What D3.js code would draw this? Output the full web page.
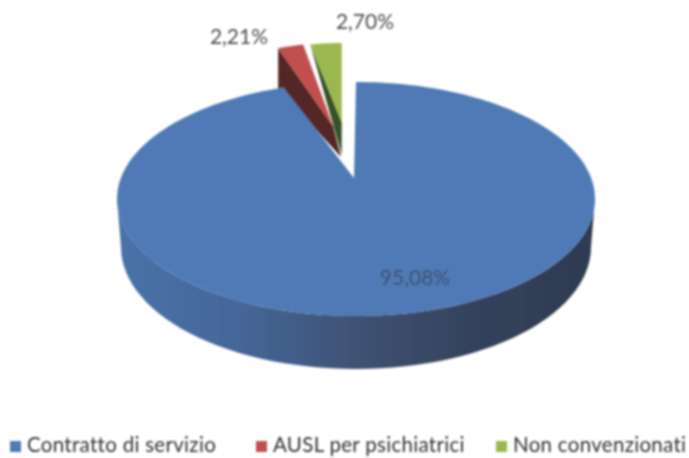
<!DOCTYPE html>
<html>
<head>
<meta charset="utf-8">
<script src="https://cdn.jsdelivr.net/npm/d3@7"></script>
<style>
html, body { margin: 0; padding: 0; background: #fff; }
svg { display: block; font-family: Lato, sans-serif; }
</style>
</head>
<body>
<div id="chart"></div>
<script>
const categories = ["Contratto di servizio", "AUSL per psichiatrici", "Non convenzionati"]
const values = [95.08, 2.21, 2.70]
const valueLabels = ["95,08%", "2,21%", "2,70%"]

const width = 689
const height = 458
const svg = d3.select("#chart").append("svg")
    .attr("width", width).attr("height", height)
    .attr("viewBox", `0 0 ${width} ${height}`)

const defs = svg.append("defs")
defs.append("filter").attr("id", "soft")
    .attr("filterUnits", "userSpaceOnUse")
    .attr("x", 0).attr("y", 0)
    .attr("width", width).attr("height", height)
    .append("feGaussianBlur").attr("stdDeviation", 0.8)

const grad = defs.append("linearGradient").attr("id", "wall")
grad.append("stop").attr("offset", "0%").attr("stop-color", "#4a72a9")
grad.append("stop").attr("offset", "25%").attr("stop-color", "#456799")
grad.append("stop").attr("offset", "50%").attr("stop-color", "#3f5274")
grad.append("stop").attr("offset", "75%").attr("stop-color", "#34425d")
grad.append("stop").attr("offset", "100%").attr("stop-color", "#2d3a50")

const slices = d3.pie().sort(null)(values)
const line = d3.line()

// point on a tilted rim, angle clockwise from 12 o'clock
const rim = (e, a) => [e.cx + e.rx * Math.sin(a), e.cy - e.ry * Math.cos(a)]
const rimPoints = (e, a0, a1) => d3.range(0, 61).map(i => rim(e, a0 + (a1 - a0) * i / 60))

// geometry of each exploded wedge
const shapes = [
    { top: { cx: 356, cy: 199, rx: 239, ry: 117 }, apex: [354, 178], color: "#4f7ab5" },
    { top: { cx: 334.6, cy: 153, rx: 186, ry: 110 }, apex: [333, 126], floor: [341, 157], drop: 40, color: "#c0504d", side: "#552826" },
    { top: { cx: 341.7, cy: 153, rx: 186, ry: 110 }, apex: [341.7, 122], floor: [341.7, 155], color: "#9bb84f", side: "#36532a" }
]
const blueFloor = { cx: 356, cy: 247, rx: 235, ry: 122 }

const g = svg.append("g").attr("filter", "url(#soft)")

// green wedge
const green = shapes[2], greenS = slices[2]
const greenRim = rimPoints(green.top, greenS.startAngle, greenS.endAngle)
g.append("path").attr("fill", green.side)
    .attr("d", line([greenRim[0], green.floor, green.apex]) + "Z")
g.append("path").attr("fill", green.color)
    .attr("d", line([...greenRim, green.apex]) + "Z")

// red wedge
const red = shapes[1], redS = slices[1]
const redRim = rimPoints(red.top, redS.startAngle, redS.endAngle)
const redLeft = redRim[0]
g.append("path").attr("fill", red.side)
    .attr("d", line([redLeft, [redLeft[0], redLeft[1] + red.drop], red.floor, red.apex]) + "Z")
g.append("path").attr("fill", red.color)
    .attr("d", line([...redRim, red.apex]) + "Z")

// blue outer wall, then the top face over it
const blue = shapes[0], blueS = slices[0]
const wallTop = rimPoints(blue.top, Math.PI / 2, Math.PI * 1.5)
const wallBottom = rimPoints(blueFloor, Math.PI / 2, Math.PI * 1.5).reverse()
g.append("path").attr("fill", "url(#wall)")
    .attr("d", line([...wallTop, ...wallBottom]) + "Z")
g.append("path").attr("fill", blue.color)
    .attr("d", line([...d3.range(0, 241).map(i => rim(blue.top, blueS.startAngle + (blueS.endAngle - blueS.startAngle) * i / 240)), blue.apex]) + "Z")

// value labels
const labelPos = [[415, 285], [239, 44], [365, 29]]
const labelColor = ["#3c5070", "#4d4d4d", "#4d4d4d"]
g.selectAll(".val").data(valueLabels).join("text")
    .attr("class", "val")
    .attr("x", (d, i) => labelPos[i][0])
    .attr("y", (d, i) => labelPos[i][1])
    .attr("text-anchor", "middle")
    .attr("font-size", 21)
    .attr("fill", (d, i) => labelColor[i])
    .text(d => d)

// legend
const legendX = [10, 256, 496]
const legendColors = shapes.map(d => d.color)
const legend = g.selectAll(".leg").data(categories).join("g")
    .attr("class", "leg")
    .attr("transform", (d, i) => `translate(${legendX[i]},0)`)
legend.append("rect")
    .attr("y", 441).attr("width", 11).attr("height", 11)
    .attr("fill", (d, i) => legendColors[i])
legend.append("text")
    .attr("x", 17).attr("y", 452)
    .attr("font-size", 20.5)
    .attr("letter-spacing", 0.3)
    .attr("fill", "#333")
    .text(d => d)
</script>
</body>
</html>
